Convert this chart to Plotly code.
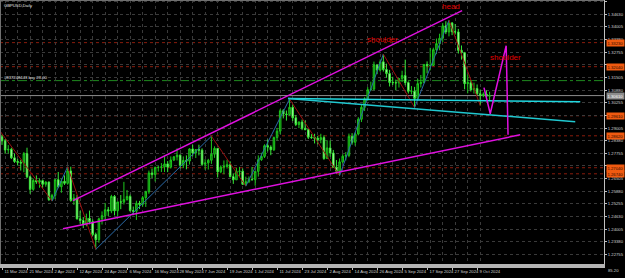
import plotly.graph_objects as go
import pandas as pd

# ---------------- data (GBPUSD daily) ----------------
dates = [
    "2024-03-08","2024-03-11","2024-03-12","2024-03-13","2024-03-14","2024-03-15",
    "2024-03-18","2024-03-19","2024-03-20","2024-03-21","2024-03-22",
    "2024-03-25","2024-03-26","2024-03-27","2024-03-28","2024-03-29",
    "2024-04-01","2024-04-02","2024-04-03","2024-04-04","2024-04-05",
    "2024-04-08","2024-04-09","2024-04-10","2024-04-11","2024-04-12",
    "2024-04-15","2024-04-16","2024-04-17","2024-04-18","2024-04-19",
    "2024-04-22","2024-04-23","2024-04-24","2024-04-25","2024-04-26",
    "2024-04-29","2024-04-30","2024-05-01","2024-05-02","2024-05-03",
    "2024-05-06","2024-05-07","2024-05-08","2024-05-09","2024-05-10",
    "2024-05-13","2024-05-14","2024-05-15","2024-05-16","2024-05-17",
    "2024-05-20","2024-05-21","2024-05-22","2024-05-23","2024-05-24",
    "2024-05-27","2024-05-28","2024-05-29","2024-05-30","2024-05-31",
    "2024-06-03","2024-06-04","2024-06-05","2024-06-06","2024-06-07",
    "2024-06-10","2024-06-11","2024-06-12","2024-06-13","2024-06-14",
    "2024-06-17","2024-06-18","2024-06-19","2024-06-20","2024-06-21",
    "2024-06-24","2024-06-25","2024-06-26","2024-06-27","2024-06-28",
    "2024-07-01","2024-07-02","2024-07-03","2024-07-04","2024-07-05",
    "2024-07-08","2024-07-09","2024-07-10","2024-07-11","2024-07-12",
    "2024-07-15","2024-07-16","2024-07-17","2024-07-18","2024-07-19",
    "2024-07-22","2024-07-23","2024-07-24","2024-07-25","2024-07-26",
    "2024-07-29","2024-07-30","2024-07-31","2024-08-01","2024-08-02",
    "2024-08-05","2024-08-06","2024-08-07","2024-08-08","2024-08-09",
    "2024-08-12","2024-08-13","2024-08-14","2024-08-15","2024-08-16",
    "2024-08-19","2024-08-20","2024-08-21","2024-08-22","2024-08-23",
    "2024-08-26","2024-08-27","2024-08-28","2024-08-29","2024-08-30",
    "2024-09-02","2024-09-03","2024-09-04","2024-09-05","2024-09-06",
    "2024-09-09","2024-09-10","2024-09-11","2024-09-12","2024-09-13",
    "2024-09-16","2024-09-17","2024-09-18","2024-09-19","2024-09-20",
    "2024-09-23","2024-09-24","2024-09-25","2024-09-26","2024-09-27",
    "2024-09-30","2024-10-01","2024-10-02","2024-10-03","2024-10-04",
    "2024-10-07","2024-10-08","2024-10-09","2024-10-10","2024-10-11",
    "2024-10-14","2024-10-15",
]
opens = [
    1.2864,1.2857,1.2837,1.2792,1.2795,1.2753,
    1.2735,1.2731,1.2727,1.2774,1.2659,
    1.2597,1.2641,1.2634,1.2640,1.2622,
    1.2633,1.2546,1.2567,1.2645,1.2610,
    1.2637,1.2627,1.2688,1.2542,1.2554,
    1.2451,1.2443,1.2427,1.2454,1.2437,
    1.2374,1.2348,1.2451,1.2467,1.2496,
    1.2490,1.2562,1.2491,1.2535,1.2534,
    1.2547,1.2562,1.2492,1.2489,1.2528,
    1.2523,1.2556,1.2585,1.2678,1.2670,
    1.2705,1.2706,1.2708,1.2723,1.2707,
    1.2742,1.2758,1.2766,1.2716,1.2740,
    1.2737,1.2797,1.2777,1.2794,1.2791,
    1.2721,1.2728,1.2741,1.2771,1.2800,
    1.2684,1.2707,1.2710,1.2719,1.2660,
    1.2644,1.2686,1.2687,1.2622,1.2635,
    1.2646,1.2645,1.2686,1.2744,1.2760,
    1.2813,1.2806,1.2793,1.2853,1.2885,
    1.2986,1.2970,1.2967,1.3003,1.2951,
    1.2918,1.2930,1.2899,1.2892,1.2855,
    1.2853,1.2850,1.2843,1.2853,1.2750,
    1.2802,1.2777,1.2707,1.2687,1.2733,
    1.2761,1.2765,1.2859,1.2830,1.2871,
    1.2944,1.3003,1.3045,1.3090,1.3093,
    1.3213,1.3187,1.3228,1.3190,1.3170,
    1.3126,1.3125,1.3124,1.3145,1.3160,
    1.3125,1.3082,1.3083,1.3047,1.3120,
    1.3126,1.3215,1.3209,1.3210,1.3288,
    1.3318,1.3345,1.3406,1.3376,1.3420,
    1.3377,1.3376,1.3285,1.3273,1.3120,
    1.3125,1.3090,1.3096,1.3070,1.3062,
    1.3068,1.3058,
]
highs = [
    1.2893,1.2868,1.2846,1.2816,1.2803,1.2774,
    1.2748,1.2743,1.2782,1.2803,1.2665,
    1.2650,1.2666,1.2652,1.2646,1.2637,
    1.2636,1.2575,1.2649,1.2683,1.2650,
    1.2666,1.2709,1.2709,1.2574,1.2569,
    1.2491,1.2460,1.2477,1.2492,1.2449,
    1.2383,1.2457,1.2488,1.2530,1.2510,
    1.2570,1.2569,1.2534,1.2569,1.2634,
    1.2594,1.2571,1.2512,1.2541,1.2540,
    1.2565,1.2590,1.2690,1.2700,1.2710,
    1.2713,1.2727,1.2760,1.2737,1.2760,
    1.2762,1.2800,1.2770,1.2760,1.2765,
    1.2800,1.2818,1.2796,1.2818,1.2800,
    1.2746,1.2748,1.2860,1.2810,1.2800,
    1.2716,1.2740,1.2744,1.2736,1.2676,
    1.2703,1.2708,1.2700,1.2660,1.2661,
    1.2708,1.2688,1.2765,1.2778,1.2820,
    1.2844,1.2815,1.2858,1.2901,1.2995,
    1.2994,1.2987,1.3044,1.3016,1.2965,
    1.2933,1.2942,1.2938,1.2895,1.2870,
    1.2872,1.2862,1.2872,1.2864,1.2840,
    1.2839,1.2792,1.2742,1.2750,1.2771,
    1.2782,1.2873,1.2875,1.2878,1.2954,
    1.3016,1.3053,1.3103,1.3130,1.3229,
    1.3214,1.3240,1.3266,1.3219,1.3188,
    1.3154,1.3140,1.3147,1.3184,1.3239,
    1.3131,1.3108,1.3104,1.3144,1.3163,
    1.3215,1.3230,1.3297,1.3298,1.3343,
    1.3367,1.3420,1.3429,1.3434,1.3425,
    1.3415,1.3391,1.3309,1.3277,1.3165,
    1.3137,1.3125,1.3116,1.3091,1.3077,
    1.3087,1.3080,
]
lows = [
    1.2832,1.2817,1.2773,1.2774,1.2747,1.2728,
    1.2715,1.2690,1.2682,1.2653,1.2575,
    1.2590,1.2624,1.2605,1.2605,1.2610,
    1.2540,1.2539,1.2549,1.2603,1.2580,
    1.2619,1.2620,1.2536,1.2520,1.2448,
    1.2427,1.2405,1.2414,1.2424,1.2366,
    1.2300,1.2333,1.2423,1.2442,1.2465,
    1.2479,1.2468,1.2465,1.2499,1.2522,
    1.2541,1.2487,1.2469,1.2446,1.2500,
    1.2511,1.2510,1.2575,1.2653,1.2636,
    1.2685,1.2683,1.2683,1.2682,1.2700,
    1.2737,1.2740,1.2700,1.2702,1.2696,
    1.2720,1.2760,1.2752,1.2765,1.2713,
    1.2694,1.2695,1.2723,1.2753,1.2656,
    1.2677,1.2672,1.2700,1.2656,1.2624,
    1.2644,1.2660,1.2620,1.2613,1.2628,
    1.2640,1.2615,1.2660,1.2738,1.2752,
    1.2785,1.2766,1.2787,1.2839,1.2870,
    1.2948,1.2937,1.2961,1.2935,1.2910,
    1.2900,1.2890,1.2890,1.2846,1.2847,
    1.2824,1.2820,1.2825,1.2743,1.2749,
    1.2759,1.2704,1.2675,1.2665,1.2726,
    1.2740,1.2756,1.2818,1.2813,1.2864,
    1.2930,1.2985,1.3035,1.3084,1.3087,
    1.3167,1.3179,1.3180,1.3150,1.3106,
    1.3113,1.3087,1.3101,1.3128,1.3112,
    1.3071,1.3067,1.3002,1.3046,1.3101,
    1.3122,1.3171,1.3186,1.3210,1.3266,
    1.3285,1.3326,1.3365,1.3354,1.3360,
    1.3363,1.3269,1.3239,1.3092,1.3072,
    1.3081,1.3071,1.3061,1.3012,1.3053,
    1.3049,1.3037,
]
closes = [
    1.2857,1.2837,1.2792,1.2795,1.2753,1.2735,
    1.2731,1.2727,1.2774,1.2659,1.2597,
    1.2641,1.2634,1.2640,1.2622,1.2633,
    1.2546,1.2567,1.2645,1.2610,1.2637,
    1.2627,1.2688,1.2542,1.2554,1.2451,
    1.2443,1.2427,1.2454,1.2437,1.2374,
    1.2348,1.2451,1.2467,1.2496,1.2490,
    1.2562,1.2491,1.2535,1.2534,1.2547,
    1.2562,1.2492,1.2489,1.2528,1.2523,
    1.2556,1.2585,1.2678,1.2670,1.2705,
    1.2706,1.2708,1.2723,1.2707,1.2742,
    1.2758,1.2766,1.2716,1.2740,1.2737,
    1.2797,1.2777,1.2794,1.2791,1.2721,
    1.2728,1.2741,1.2771,1.2800,1.2684,
    1.2707,1.2710,1.2719,1.2660,1.2644,
    1.2686,1.2687,1.2622,1.2635,1.2646,
    1.2645,1.2686,1.2744,1.2760,1.2813,
    1.2806,1.2793,1.2853,1.2885,1.2986,
    1.2970,1.2967,1.3003,1.2951,1.2918,
    1.2930,1.2899,1.2892,1.2855,1.2853,
    1.2850,1.2843,1.2853,1.2750,1.2802,
    1.2777,1.2707,1.2687,1.2733,1.2761,
    1.2765,1.2859,1.2830,1.2871,1.2944,
    1.3003,1.3045,1.3090,1.3093,1.3213,
    1.3187,1.3228,1.3190,1.3170,1.3126,
    1.3125,1.3124,1.3145,1.3160,1.3125,
    1.3082,1.3083,1.3047,1.3120,1.3126,
    1.3215,1.3209,1.3210,1.3288,1.3318,
    1.3345,1.3406,1.3376,1.3420,1.3377,
    1.3376,1.3285,1.3273,1.3120,1.3125,
    1.3090,1.3096,1.3070,1.3062,1.3068,
    1.3058,1.3061,
]

# bar index: 11 Mar 2024 = 0
bar_index = [i - 1 for i in range(len(dates))]

# price-axis labels
price_ticks = [1.22755 + 0.00625 * k for k in range(21)]

# ZigZag pivots (date, 'H' high / 'L' low)
zigzag_dates = ["2024-03-08", "2024-04-02", "2024-04-09", "2024-04-22", "2024-06-12",
                "2024-06-27", "2024-07-17", "2024-08-08", "2024-08-28", "2024-09-11",
                "2024-09-26", "2024-10-10"]
zigzag_kind = ["H", "L", "H", "L", "H", "L", "H", "L", "H", "L", "H", "L"]

# hand-drawn trend lines (bar index, price)
upper_channel_x = [22.7, 147.2]
upper_channel_y = [1.2541, 1.3481]
lower_channel_x = [19.5, 165.8]
lower_channel_y = [1.2402, 1.2867]
neck_flat_x = [91.5, 185.0]
neck_flat_y = [1.3046, 1.3031]
neck_slope_x = [91.5, 183.4]
neck_slope_y = [1.3046, 1.2932]
shoulder_path_x = [154.2, 156.2, 161.3, 161.9]
shoulder_path_y = [1.3100, 1.2971, 1.3308, 1.2867]

# horizontal levels
level_prices = [1.3323, 1.3204, 1.2961, 1.2862, 1.2704, 1.2674]
trade_price = 1.3135
trade_text = "#837248443 buy 28.00"
bid_price = closes[-1]
sub_window_value = "85.20"

# pattern labels (bar index, price, text)
label_x = [143.7, 121.6, 161.0]
label_y = [1.3501, 1.3337, 1.3248]
label_text = ["head", "shoulder", "shoulder"]

# ---------------- figure ----------------
FONT = "Liberation Sans, Arial, sans-serif"
SMALL = 4.2
fig = go.Figure()

fig.add_trace(go.Candlestick(
    x=bar_index, open=opens, high=highs, low=lows, close=closes,
    increasing=dict(line=dict(color="#1cc81c", width=1), fillcolor="#0b6b0b"),
    decreasing=dict(line=dict(color="#37e837", width=1), fillcolor="#dcf7d2"),
    whiskerwidth=0, hoverinfo="skip", showlegend=False,
))

# zigzag
pos = {d: i for d, i in zip(dates, bar_index)}
zz_x, zz_y = [], []
for d, k in zip(zigzag_dates, zigzag_kind):
    j = dates.index(d)
    zz_x.append(pos[d])
    zz_y.append(highs[j] if k == "H" else lows[j])
for a in range(len(zz_x) - 1):
    col = "#9a1010" if zz_y[a + 1] < zz_y[a] else "#2a6aa8"
    fig.add_trace(go.Scatter(x=zz_x[a:a + 2], y=zz_y[a:a + 2], mode="lines",
                             line=dict(color=col, width=1), hoverinfo="skip", showlegend=False))

for xs, ys, col, w in [
    (upper_channel_x, upper_channel_y, "#e010e0", 1.5),
    (lower_channel_x, lower_channel_y, "#e010e0", 1.5),
    (neck_flat_x, neck_flat_y, "#20d8e0", 1.5),
    (neck_slope_x, neck_slope_y, "#20c8d0", 1.5),
    (shoulder_path_x, shoulder_path_y, "#e010e0", 1.5),
]:
    fig.add_trace(go.Scatter(x=xs, y=ys, mode="lines", line=dict(color=col, width=w),
                             hoverinfo="skip", showlegend=False))

shapes = []
for p in level_prices:
    shapes.append(dict(type="line", xref="paper", x0=0, x1=1, yref="y", y0=p, y1=p,
                       line=dict(color="#8a1c0c", width=1, dash="dot"), layer="below"))
shapes.append(dict(type="line", xref="paper", x0=0, x1=1, yref="y", y0=trade_price, y1=trade_price,
                   line=dict(color="#1f8a1f", width=1, dash="dashdot"), layer="below"))
shapes.append(dict(type="line", xref="paper", x0=0, x1=1, yref="y", y0=bid_price, y1=bid_price,
                   line=dict(color="#8c8c8c", width=1), layer="below"))
# window frame (top and left edges)
shapes.append(dict(type="line", xref="paper", x0=0, x1=1, yref="paper", y0=1, y1=1,
                   line=dict(color="#707070", width=2)))
shapes.append(dict(type="line", xref="paper", x0=0, x1=0, yref="paper", y0=0, y1=1,
                   line=dict(color="#707070", width=2)))

annotations = []
for p in level_prices:
    annotations.append(dict(xref="paper", x=1, y=p, yref="y", xanchor="left", yanchor="middle",
                            text=f"{p:.5f}", showarrow=False, xshift=2,
                            bgcolor="#f05a10", borderpad=0.5,
                            font=dict(family=FONT, size=SMALL, color="#2a0a00")))
annotations.append(dict(xref="paper", x=1, y=bid_price, yref="y", xanchor="left", yanchor="middle",
                        text=f"{bid_price:.5f}", showarrow=False, xshift=2,
                        bgcolor="#8c8c8c", borderpad=0.5,
                        font=dict(family=FONT, size=SMALL, color="#ffffff")))
annotations.append(dict(xref="paper", x=1, y=0, yref="paper", xanchor="left", yanchor="top",
                        text=sub_window_value, showarrow=False, xshift=2, yshift=-2,
                        font=dict(family=FONT, size=SMALL, color="#d0d0d0")))
annotations.append(dict(xref="paper", x=0, y=1, yref="paper", xanchor="left", yanchor="top",
                        text="GBPUSD,Daily", showarrow=False, xshift=2, yshift=-1,
                        font=dict(family=FONT, size=SMALL, color="#e0e0e0")))
annotations.append(dict(xref="paper", x=0, y=trade_price, yref="y", xanchor="left", yanchor="bottom",
                        text=trade_text, showarrow=False, xshift=2, yshift=-1,
                        font=dict(family=FONT, size=SMALL, color="#e0e0e0")))
for lx, ly, lt in zip(label_x, label_y, label_text):
    annotations.append(dict(x=lx, y=ly, xref="x", yref="y", text=lt, showarrow=False,
                            font=dict(family=FONT, size=8, color="#e00000")))

# hide price labels that sit under the level tags
marked = level_prices + [bid_price]
price_text = [("" if min(abs(v - m) for m in marked) < 0.0013 else f"{v:.5f}") for v in price_ticks]

tick_idx = bar_index[1::8]
tick_txt = [pd.Timestamp(d).strftime("%-d %b %Y") for d in dates[1::8]]
grid_idx = bar_index[2::4]

fig.update_layout(
    width=625, height=278, margin=dict(l=0, r=21, t=0, b=14),
    paper_bgcolor="#000000", plot_bgcolor="#000000",
    shapes=shapes, annotations=annotations, showlegend=False,
    xaxis=dict(range=[-0.64, 192.6], rangeslider=dict(visible=False),
               tickmode="array", tickvals=tick_idx, ticktext=tick_txt, tickangle=0,
               ticklabelposition="outside right", ticks="outside", ticklen=2, tickcolor="#c0c0c0",
               tickfont=dict(family=FONT, size=SMALL, color="#d0d0d0"),
               showgrid=False,
               minor=dict(tickmode="array", tickvals=grid_idx, showgrid=True,
                          gridcolor="#3a3a3a", griddash="dot", gridwidth=1, ticks=""),
               showline=True, linecolor="#b4b4b4", linewidth=4, zeroline=False),
    yaxis=dict(range=[1.22277, 1.35339], side="right",
               tickmode="array", tickvals=price_ticks, ticktext=price_text,
               ticks="outside", ticklen=2, tickcolor="#c0c0c0",
               tickfont=dict(family=FONT, size=SMALL, color="#d0d0d0"),
               showgrid=True, gridcolor="#3a3a3a", griddash="dot", gridwidth=1,
               showline=True, linecolor="#c0c0c0", linewidth=1, zeroline=False),
)

fig.write_html("out.html")
